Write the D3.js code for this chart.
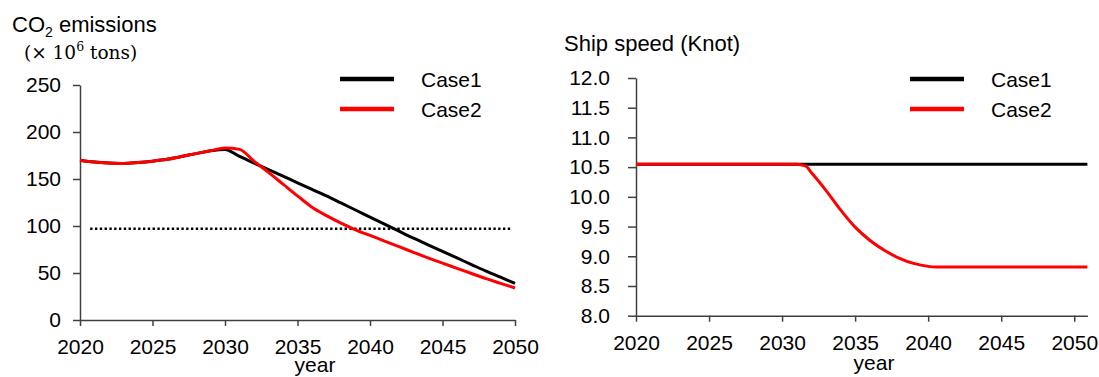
<!DOCTYPE html>
<html>
<head>
<meta charset="utf-8">
<script src="https://cdn.jsdelivr.net/npm/d3@7"></script>
<style>
  body { margin: 0; background: #fff; }
  text { font-family: "Liberation Sans", Arial, sans-serif; fill: #000; }
  .axis path, .axis line { stroke: #404040; stroke-width: 1.5; }
  .axis text { font-size: 21px; }
</style>
</head>
<body>
<script>
// ---- data ----
var years = [2020, 2021, 2022, 2023, 2024, 2025, 2026, 2027, 2028, 2029, 2030,
             2031, 2032, 2033, 2034, 2035, 2036, 2037, 2038, 2039, 2040,
             2041, 2042, 2043, 2044, 2045, 2046, 2047, 2048, 2049, 2050];

var co2Case1 = [170, 168, 167, 166.5, 167.5, 169, 171, 174, 177, 180, 181.5,
                174, 167, 160, 153, 146, 139, 132, 124.5, 117, 109.5,
                102, 94.5, 87, 80, 73, 66, 59, 52, 45.5, 39];
var co2Case2 = [170, 168, 167, 166.5, 167.5, 169, 171, 174, 177, 180, 183,
                181.5, 169, 157, 144.5, 132, 120, 111, 103, 96, 90,
                84, 78, 72, 66, 60.5, 55, 49.5, 44, 39, 34];

var targetYears = [2020.7, 2049.7];
var targetValue = 97;

var speedYears = [2020, 2031, 2031.6, 2032, 2033, 2034, 2035, 2036, 2037, 2038, 2039, 2040, 2040.6, 2045, 2050.9];
var speedCase1 = [10.55, 10.55, 10.55, 10.55, 10.55, 10.55, 10.55, 10.55, 10.55, 10.55, 10.55, 10.55, 10.55, 10.55, 10.55];
var speedCase2 = [10.55, 10.55, 10.52, 10.41, 10.11, 9.78, 9.49, 9.27, 9.10, 8.97, 8.88, 8.83, 8.82, 8.82, 8.82];

var xTicks = [2020, 2025, 2030, 2035, 2040, 2045, 2050];
var co2Ticks = [0, 50, 100, 150, 200, 250];
var speedTicks = [8, 8.5, 9, 9.5, 10, 10.5, 11, 11.5, 12];
var caseNames = ["Case1", "Case2"];
var caseColors = ["#000000", "#ff0000"];

var svg = d3.select("body").append("svg")
    .attr("width", 1099)
    .attr("height", 377);

function series(xs, ys) {
    return xs.map(function(x, i) { return {x: x, y: ys[i]}; });
}

// ---------------- left chart: CO2 emissions ----------------
var x1 = d3.scaleLinear().domain([2020, 2050]).range([80, 515]);
var y1 = d3.scaleLinear().domain([0, 250]).range([320, 85]);

svg.append("g")
    .attr("class", "axis")
    .attr("transform", "translate(0,320)")
    .call(d3.axisBottom(x1).tickValues(xTicks).tickFormat(d3.format("d"))
        .tickSize(6).tickSizeOuter(0).tickPadding(13));

svg.append("g")
    .attr("class", "axis")
    .attr("transform", "translate(80,0)")
    .call(d3.axisLeft(y1).tickValues(co2Ticks).tickFormat(d3.format("d"))
        .tickSize(7).tickSizeOuter(0).tickPadding(12));

var line1 = d3.line()
    .x(function(d) { return x1(d.x); })
    .y(function(d) { return y1(d.y); })
    .curve(d3.curveMonotoneX);

// target (dotted)
svg.append("path")
    .datum(series(targetYears, [targetValue, targetValue]))
    .attr("fill", "none")
    .attr("stroke", "#000")
    .attr("stroke-width", 2.5)
    .attr("stroke-dasharray", "2.4,2.4")
    .attr("d", d3.line().x(function(d) { return x1(d.x); }).y(function(d) { return y1(d.y); }));

[co2Case1, co2Case2].forEach(function(vals, i) {
    svg.append("path")
        .datum(series(years, vals))
        .attr("fill", "none")
        .attr("stroke", caseColors[i])
        .attr("stroke-width", 3)
        .attr("stroke-linejoin", "round")
        .attr("d", line1);
});

// title
var t1 = svg.append("text").attr("x", 12).attr("y", 32).style("font-size", "22px");
t1.append("tspan").text("CO");
t1.append("tspan").attr("dy", 5).style("font-size", "14px").text("2");
t1.append("tspan").attr("dy", -5).text(" emissions");

var t2 = svg.append("text").attr("x", 24).attr("y", 59)
    .style("font-family", "'DejaVu Serif', 'Liberation Serif', serif")
    .style("font-size", "18.5px");
t2.append("tspan").text("(\u00d7 10");
t2.append("tspan").attr("dy", -8).style("font-size", "12.5px").text("6");
t2.append("tspan").attr("dy", 8).text(" tons)");

svg.append("text")
    .attr("x", 315).attr("y", 372)
    .attr("text-anchor", "middle")
    .style("font-size", "21px")
    .text("year");

// legend
caseNames.forEach(function(name, i) {
    var ly = 79 + i * 30;
    svg.append("line")
        .attr("x1", 340).attr("x2", 394).attr("y1", ly).attr("y2", ly)
        .attr("stroke", caseColors[i]).attr("stroke-width", 4.5);
    svg.append("text")
        .attr("x", 421).attr("y", ly + 8)
        .style("font-size", "21px")
        .text(name);
});

// ---------------- right chart: ship speed ----------------
var x2 = d3.scaleLinear().domain([2020, 2050.9]).range([636, 1087.4]);
var y2 = d3.scaleLinear().domain([8, 12]).range([315.7, 78]);

svg.append("g")
    .attr("class", "axis")
    .attr("transform", "translate(0,315.7)")
    .call(d3.axisBottom(x2).tickValues(xTicks).tickFormat(d3.format("d"))
        .tickSize(6).tickSizeOuter(0).tickPadding(13));

svg.append("g")
    .attr("class", "axis")
    .attr("transform", "translate(636,0)")
    .call(d3.axisLeft(y2).tickValues(speedTicks).tickFormat(d3.format(".1f"))
        .tickSize(8).tickSizeOuter(0).tickPadding(18));

var line2 = d3.line()
    .x(function(d) { return x2(d.x); })
    .y(function(d) { return y2(d.y); })
    .curve(d3.curveMonotoneX);

[speedCase1, speedCase2].forEach(function(vals, i) {
    svg.append("path")
        .datum(series(speedYears, vals))
        .attr("fill", "none")
        .attr("stroke", caseColors[i])
        .attr("stroke-width", 3)
        .attr("stroke-linejoin", "round")
        .attr("d", line2);
});

svg.append("text")
    .attr("x", 564).attr("y", 51)
    .style("font-size", "22px")
    .text("Ship speed (Knot)");

svg.append("text")
    .attr("x", 874).attr("y", 370)
    .attr("text-anchor", "middle")
    .style("font-size", "21px")
    .text("year");

caseNames.forEach(function(name, i) {
    var ly = 79 + i * 30;
    svg.append("line")
        .attr("x1", 910).attr("x2", 964).attr("y1", ly).attr("y2", ly)
        .attr("stroke", caseColors[i]).attr("stroke-width", 4.5);
    svg.append("text")
        .attr("x", 991).attr("y", ly + 8)
        .style("font-size", "21px")
        .text(name);
});
</script>
</body>
</html>
